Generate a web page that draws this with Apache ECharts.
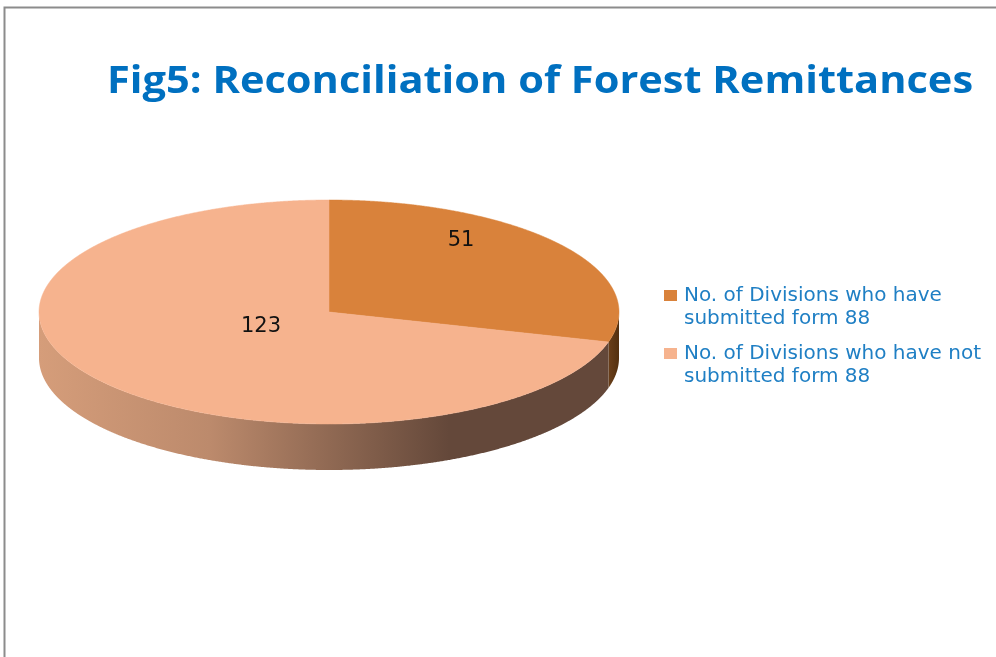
<!DOCTYPE html>
<html>
<head>
<meta charset="utf-8">
<style>html,body{margin:0;padding:0;background:#fff}#c{width:996px;height:657px}</style>
<script src="https://cdn.jsdelivr.net/npm/echarts@6/dist/echarts.min.js"></script>
</head>
<body>
<div id="c"></div>
<script>
const titleText = 'Fig5: Reconciliation of Forest Remittances';
const categories = ['No. of Divisions who have\nsubmitted form 88', 'No. of Divisions who have not\nsubmitted form 88'];
const values = [51, 123];
const topColors = ['#D9823B', '#F6B38E'];

const pie = { cx: 329, cy: 312, rx: 290, ry: 112, depth: 46 };
const labelSpots = [[461, 241], [261, 327]];
const wallFills = [
  [[0, '#6a3f1a'], [1, '#53300f']],
  [[0, '#D59D7A'], [0.3, '#BC8A6C'], [0.72, '#64483A'], [1, '#64483A']]
];

const total = values.reduce((a, b) => a + b, 0);
const starts = values.map((_, i) => values.slice(0, i).reduce((a, b) => a + b, 0));
const ang = v => v / total * Math.PI * 2;
const pt = (t, dy) => [pie.cx + pie.rx * Math.sin(t), pie.cy - pie.ry * Math.cos(t) + (dy || 0)];
function arc(a, b, dy) {
  const n = Math.max(2, Math.ceil(Math.abs(b - a) / 0.004));
  const out = [];
  for (let k = 0; k <= n; k++) out.push(pt(a + (b - a) * k / n, dy));
  return out;
}
function sliceRender(i) {
  return function () {
    const a = ang(starts[i]), b = ang(starts[i] + values[i]);
    const children = [];
    const wa = Math.max(a, Math.PI / 2), wb = Math.min(b, Math.PI * 1.5);
    if (wb > wa) {
      const wall = arc(wa, wb, 0).concat(arc(wa, wb, pie.depth).reverse());
      children.push({
        type: 'polygon',
        shape: { points: wall },
        style: {
          fill: new echarts.graphic.LinearGradient(0, 0, 1, 0,
            wallFills[i].map(s => ({ offset: s[0], color: s[1] }))),
          stroke: null
        }
      });
    }
    children.push({
      type: 'polygon',
      shape: { points: [[pie.cx, pie.cy]].concat(arc(a, b, 0)) },
      style: { fill: topColors[i], stroke: topColors[i], lineWidth: 0.5 }
    });
    children.push({
      type: 'text',
      style: {
        text: String(values[i]), x: labelSpots[i][0], y: labelSpots[i][1],
        align: 'center', verticalAlign: 'middle',
        fill: '#111', fontFamily: 'DejaVu Sans', fontSize: 21
      }
    });
    return { type: 'group', children };
  };
}

const chart = echarts.init(document.getElementById('c'), null, { renderer: 'canvas' });
chart.setOption({
  backgroundColor: '#fff',
  animation: false,
  legend: {
    orient: 'vertical', left: 659, top: 256,
    selectedMode: false, itemWidth: 13, itemHeight: 11, itemGap: -11,
    icon: 'rect',
    data: categories.map((c, i) => ({ name: c, icon: 'rect', itemStyle: { color: topColors[i] } })),
    formatter: n => '\u00a0\n' + n,
    textStyle: { color: '#1F7FC4', fontFamily: 'DejaVu Sans', fontSize: 20, lineHeight: 23, padding: [0, 0, 0, 2] }
  },
  graphic: [{
    type: 'polyline', silent: true,
    shape: { points: [[4.5, 657], [4.5, 7.5], [996, 7.5]] },
    style: { stroke: '#8C8C8C', lineWidth: 2, fill: null }
  }, {
    type: 'text', silent: true, x: 107, y: 82, scaleX: 1.124,
    style: {
      text: titleText, x: 0, y: 0, align: 'left', verticalAlign: 'middle',
      fill: '#0070C0', fontFamily: 'Open Sans', fontWeight: 'bold', fontSize: 37
    }
  }],
  series: categories.map((c, i) => ({
    type: 'custom', name: c, coordinateSystem: 'none',
    itemStyle: { color: topColors[i] },
    z: i === 0 ? 2 : 3,
    data: [values[i]],
    renderItem: sliceRender(i)
  }))
});
</script>
</body>
</html>
